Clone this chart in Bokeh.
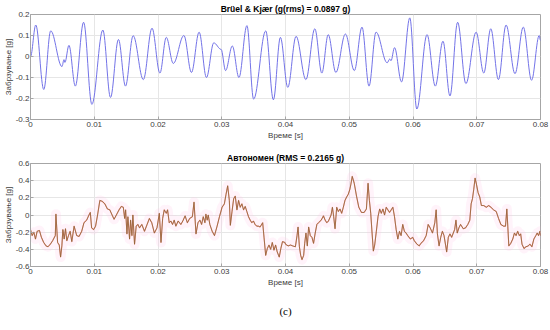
import numpy as np
from bokeh.plotting import figure
from bokeh.layouts import column
from bokeh.models import FixedTicker, Title, Range1d, ColumnDataSource
from bokeh.embed import file_html
from bokeh.resources import INLINE

# ---------------- data ----------------
title_top = "Brüel & Kjær (g(rms) = 0.0897 g)"
title_bottom = "Автономен (RMS = 0.2165 g)"
x_label = "Време [s]"
y_label = "Забрзување [g]"
caption = "(c)"

x_ticks = [0, 0.01, 0.02, 0.03, 0.04, 0.05, 0.06, 0.07, 0.08]
x_tick_labels = ["0", "0.01", "0.02", "0.03", "0.04", "0.05", "0.06", "0.07", "0.08"]
top_y_ticks = [-0.3, -0.2, -0.1, 0, 0.1, 0.2]
top_y_tick_labels = ["-0.3", "-0.2", "-0.1", "0", "0.1", "0.2"]
bot_y_ticks = [-0.6, -0.4, -0.2, 0, 0.2, 0.4, 0.6]
bot_y_tick_labels = ["-0.6", "-0.4", "-0.2", "0", "0.2", "0.4", "0.6"]

# Brüel & Kjær signal: local extrema (time in ms, acceleration in g)
top_t_ms = [0.0, 0.83, 2.08, 3.17, 4.94, 5.25, 5.4, 6.03, 7.03, 8.33, 9.63, 11.35, 12.55, 13.8,
            14.9, 16.1, 17.7, 19.06, 20.3, 21.3, 22.4, 24.06, 25.25, 26.45, 27.6, 28.75, 29.9,
            30.6, 31.66, 32.7, 33.95, 35.0, 36.9, 38.1, 39.2, 40.36, 41.66, 43.2, 44.6, 45.7,
            46.7, 47.9, 49.4, 50.8, 52.0, 53.1, 54.2, 55.95, 56.35, 56.55, 57.1, 58.2, 59.5,
            60.6, 62.2, 63.5, 64.7, 65.8, 67.0, 68.3, 69.9, 71.1, 72.2, 73.4, 74.6, 76.0,
            77.3, 78.6, 79.8, 80.0]
top_g = [0.0, 0.15, -0.157, 0.122, -0.048, -0.015, -0.028, 0.053, -0.141, 0.163, -0.228, 0.126,
         -0.195, 0.081, -0.141, 0.099, -0.11, 0.135, -0.079, 0.091, -0.033, 0.10, -0.076, 0.116,
         -0.10, 0.065, 0.034, -0.067, 0.05, -0.10, 0.147, -0.203, 0.122, -0.206, 0.091, -0.147,
         0.096, -0.11, 0.132, -0.079, 0.104, -0.076, 0.107, -0.067, 0.14, -0.141, 0.116, -0.03,
         -0.012, -0.02, 0.042, -0.121, 0.184, -0.25, 0.104, -0.141, 0.073, -0.188, 0.163,
         -0.129, 0.116, -0.079, 0.132, -0.11, 0.15, -0.082, 0.14, -0.113, 0.10, 0.076]

# Autonomous sensor signal (time in ms, acceleration in g)
bot_t_ms_a = [0.0, 0.26, 0.52, 0.78, 1.04, 1.40, 1.71, 2.07, 2.44, 2.75,
              3.11, 3.47, 3.89, 3.99, 4.25, 4.51, 4.72, 4.92, 5.08, 5.28,
              5.49, 5.70, 5.96, 6.22, 6.48, 6.84, 7.25, 7.62, 8.03, 8.39,
              8.81, 9.17, 9.38, 9.59, 9.90, 10.21, 10.52, 10.88, 11.24, 11.66,
              12.07, 12.44, 12.80, 13.11, 13.47, 13.89, 14.25, 14.56, 14.77, 14.92,
              15.13, 15.28, 15.54, 15.70, 15.91, 16.06, 16.32, 16.58, 16.84, 17.10,
              17.46, 17.88, 18.29, 18.65, 19.02, 19.43, 19.84, 20.21, 20.47, 20.73,
              20.98, 21.30, 21.50, 21.76, 22.02, 22.28, 22.54, 22.80, 23.16, 23.58,
              23.89, 24.25, 24.61, 24.97, 25.39, 25.65, 25.96, 26.27, 26.58, 26.84,
              27.10, 27.36, 27.51, 27.72, 27.88, 28.13, 28.50, 28.86, 29.27, 29.64,
              30.05, 30.41, 30.67, 30.93, 31.19, 31.35, 31.61, 31.87, 32.12, 32.38,
              32.64, 32.90, 33.16, 33.42, 33.68, 33.94, 34.20, 34.46, 34.72, 34.97,
              35.23, 35.49, 35.75, 36.01, 36.42, 36.63, 36.89, 37.15, 37.41, 37.67,
              37.93, 38.19, 38.45, 38.70, 39.02, 39.27, 39.53, 39.90]
bot_g_a = [-0.17, -0.24, -0.20, -0.28, -0.19, -0.18, -0.26, -0.32, -0.36, -0.37,
           -0.34, -0.30, -0.24, 0.01, -0.32, -0.35, -0.49, -0.36, -0.17, -0.28,
           -0.16, -0.30, -0.24, -0.19, -0.31, -0.13, -0.24, -0.25, -0.19, -0.09,
           -0.06, 0.00, 0.03, -0.15, -0.17, -0.13, 0.00, 0.17, 0.16, 0.13,
           0.07, 0.06, 0.00, -0.05, 0.00, 0.06, 0.10, 0.09, -0.04, 0.06,
           -0.22, -0.02, -0.28, -0.06, -0.24, 0.00, -0.34, -0.13, -0.11, -0.15,
           -0.11, -0.19, -0.11, -0.04, -0.09, -0.21, -0.15, 0.02, -0.32, -0.04,
           0.06, 0.02, 0.06, -0.09, -0.07, -0.11, -0.06, -0.13, -0.07, -0.11,
           -0.07, -0.01, -0.09, -0.04, -0.02, 0.15, -0.22, -0.09, -0.06, -0.11,
           -0.02, -0.09, 0.01, -0.06, 0.00, -0.11, -0.19, -0.24, -0.13, -0.02,
           0.09, 0.13, 0.24, 0.34, 0.17, -0.12, 0.04, 0.19, 0.22, 0.06,
           0.17, 0.09, 0.13, 0.06, 0.10, 0.04, -0.02, -0.06, -0.09, -0.07,
           -0.11, -0.13, -0.13, -0.14, -0.09, -0.26, -0.47, -0.39, -0.35, -0.40,
           -0.32, -0.41, -0.35, -0.43, -0.49, -0.39, -0.31, -0.32]
bot_t_ms_b = [40.0, 40.41, 40.78, 41.14, 41.55, 41.81, 41.97, 42.18, 42.38, 42.59,
              42.85, 43.01, 43.21, 43.42, 43.63, 43.89, 44.15, 44.40, 44.66, 44.92,
              45.18, 45.60, 45.96, 46.22, 46.48, 46.74, 47.15, 47.36, 47.56, 47.77,
              48.03, 48.29, 48.55, 48.81, 49.07, 49.33, 49.59, 49.84, 50.10, 50.26,
              50.47, 50.78, 51.14, 51.50, 51.92, 52.33, 52.69, 52.95, 53.16, 53.37,
              53.58, 53.78, 53.99, 54.25, 54.51, 54.77, 55.03, 55.28, 55.54, 55.80,
              56.06, 56.32, 56.58, 56.84, 57.10, 57.36, 57.62, 57.88, 58.13, 58.39,
              58.65, 58.91, 59.17, 59.59, 59.95, 60.21, 60.62, 60.98, 61.24, 61.66,
              62.07, 62.38, 62.69, 63.06, 63.42, 63.63, 63.83, 64.09, 64.35, 64.61,
              64.87, 65.13, 65.28, 65.54, 65.80, 66.06, 66.32, 66.53, 66.74, 66.94,
              67.20, 67.46, 67.88, 68.24, 68.60, 68.91, 69.12, 69.33, 69.53, 69.74,
              69.95, 70.21, 70.47, 70.73, 71.09, 71.50, 71.87, 72.23, 72.64, 73.06,
              73.42, 73.78, 74.20, 74.51, 74.72, 74.87, 75.03, 75.34, 75.65, 75.91,
              76.17, 76.42, 76.68, 76.89, 77.10, 77.41, 77.72, 78.08, 78.34, 78.65,
              78.96, 79.27, 79.48, 79.69, 79.90, 80.0]
bot_g_b = [-0.34, -0.36, -0.35, -0.36, -0.37, -0.24, -0.14, -0.37, -0.47, -0.52,
           -0.47, -0.33, -0.21, -0.36, -0.14, -0.24, -0.26, -0.33, -0.21, -0.11,
           -0.09, -0.06, -0.01, -0.06, -0.09, -0.07, 0.00, 0.09, -0.02, -0.16,
           0.09, 0.04, 0.07, 0.02, 0.09, 0.17, 0.21, 0.24, 0.30, 0.36,
           0.45, 0.37, 0.22, 0.09, 0.03, 0.03, 0.07, 0.37, 0.17, 0.02,
           -0.21, -0.42, -0.35, -0.19, -0.02, 0.07, 0.02, 0.07, 0.00, 0.09,
           0.06, 0.03, 0.06, 0.09, -0.02, -0.17, -0.28, -0.19, -0.24, -0.11,
           -0.19, -0.21, -0.24, -0.28, -0.26, -0.30, -0.34, -0.36, -0.33, -0.30,
           -0.24, -0.11, -0.15, -0.21, -0.09, 0.06, -0.22, -0.36, -0.26, -0.19,
           -0.24, -0.36, -0.43, -0.26, -0.22, -0.26, -0.21, -0.17, -0.06, -0.21,
           -0.15, -0.11, -0.16, -0.15, -0.11, -0.06, 0.13, 0.19, 0.30, 0.43,
           0.36, 0.26, 0.21, 0.11, 0.11, 0.09, 0.11, 0.09, 0.06, 0.04,
           -0.04, -0.11, -0.13, -0.13, 0.07, -0.13, -0.36, -0.33, -0.28, -0.21,
           -0.24, -0.19, -0.24, -0.22, -0.34, -0.39, -0.37, -0.36, -0.34, -0.37,
           -0.28, -0.24, -0.21, -0.24, -0.19, -0.24]

n = min(len(top_t_ms), len(top_g))
top_t = np.array(top_t_ms[:n]) / 1000.0
top_v = np.array(top_g[:n])
na = min(len(bot_t_ms_a), len(bot_g_a))
nb = min(len(bot_t_ms_b), len(bot_g_b))
bot_t = np.array(bot_t_ms_a[:na] + bot_t_ms_b[:nb]) / 1000.0
bot_v = np.array(bot_g_a[:na] + bot_g_b[:nb])

FONT = "Liberation Sans"
GRID = "#e6e6e6"
BOX = "#a6a6a6"
TXT = "#404040"


def make_fig(height, title, y_ticks, y_labels, y_lo, y_hi, top_border, bottom_border):
    p = figure(width=550, height=height, output_backend="svg", toolbar_location=None,
               x_range=Range1d(0, 0.08), y_range=Range1d(y_lo, y_hi),
               min_border_left=0, min_border_right=10,
               min_border_top=top_border, min_border_bottom=bottom_border)
    p.title.text = title
    p.title.align = "center"
    p.title.text_font = FONT
    p.title.text_font_size = "8.5px"
    p.title.text_font_style = "bold"
    p.title.text_color = "#000000"
    p.title.standoff = 2
    p.title.offset = 0
    p.outline_line_color = BOX
    p.outline_line_width = 1
    p.background_fill_color = "white"
    p.border_fill_color = "white"
    for ax in (p.xaxis[0], p.yaxis[0]):
        ax.axis_line_color = BOX
        ax.major_tick_line_color = BOX
        ax.major_tick_in = 3
        ax.major_tick_out = 0
        ax.minor_tick_line_color = None
        ax.major_label_text_font = FONT
        ax.major_label_text_font_size = "8px"
        ax.major_label_text_color = TXT
        ax.axis_label_text_font = FONT
        ax.axis_label_text_font_size = "8px"
        ax.axis_label_text_font_style = "normal"
        ax.axis_label_text_color = TXT
        ax.major_label_standoff = 2
        ax.axis_label_standoff = 1
    p.yaxis.major_label_standoff = 1
    p.yaxis.axis_label_standoff = 0
    p.xaxis.ticker = FixedTicker(ticks=x_ticks)
    p.xaxis.major_label_overrides = {t: l for t, l in zip(x_ticks, x_tick_labels)}
    p.yaxis.ticker = FixedTicker(ticks=y_ticks)
    p.yaxis.major_label_overrides = {t: l for t, l in zip(y_ticks, y_labels)}
    p.xaxis.axis_label = x_label
    p.yaxis.axis_label = y_label
    p.xgrid.ticker = FixedTicker(ticks=x_ticks)
    p.ygrid.ticker = FixedTicker(ticks=y_ticks)
    p.grid.grid_line_color = GRID
    p.grid.grid_line_width = 1
    return p


# ---------------- top chart ----------------
p1 = make_fig(142, title_top, top_y_ticks, top_y_tick_labels, -0.3, 0.2, 0, 0)
k = 0.36
x0, x1 = top_t[:-1], top_t[1:]
y0, y1 = top_v[:-1], top_v[1:]
dx = x1 - x0
src_top = ColumnDataSource(dict(x0=x0, y0=y0, x1=x1, y1=y1,
                                cx0=x0 + k * dx, cy0=y0, cx1=x1 - k * dx, cy1=y1))
p1.bezier(x0="x0", y0="y0", x1="x1", y1="y1", cx0="cx0", cy0="cy0", cx1="cx1", cy1="cy1",
          source=src_top, line_color="#7373e8", line_width=1.0)

# ---------------- bottom chart ----------------
p2 = make_fig(188, title_bottom, bot_y_ticks, bot_y_tick_labels, -0.6, 0.6, 21, 0)
p2.line(bot_t, bot_v, line_color="#ffc2e4", line_alpha=0.2, line_width=10, line_join="round")
p2.line(bot_t, bot_v, line_color="#e8574a", line_width=1.1, line_join="round", line_alpha=0.55)
p2.line(bot_t, bot_v, line_color="#8f6234", line_width=0.8, line_join="round")

cap = Title(text=caption, align="center", text_font="Liberation Serif",
            text_font_size="11px", text_font_style="normal", text_color="#000000",
            standoff=27, offset=0)
p2.add_layout(cap, "below")

layout = column(p1, p2, spacing=0)
open("out.html", "w").write(file_html(layout, INLINE))
